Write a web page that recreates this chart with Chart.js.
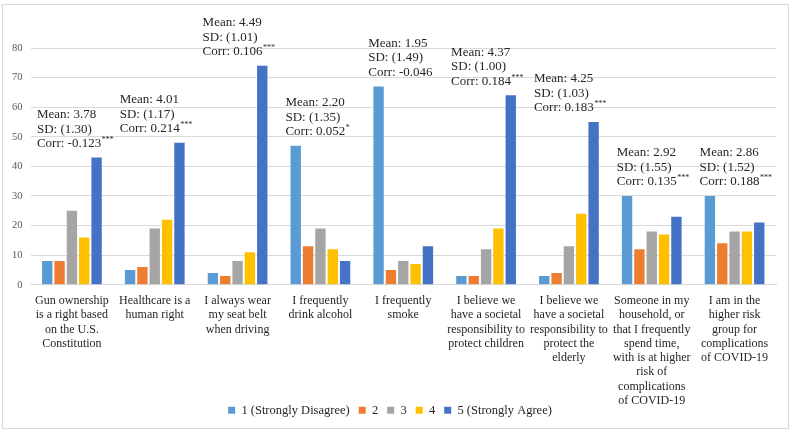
<!DOCTYPE html>
<html>
<head>
<meta charset="utf-8">
<script src="https://cdn.jsdelivr.net/npm/chart.js@4"></script>
<style>
html,body{margin:0;padding:0;background:#fff;}
#wrap{width:793px;height:431px;position:relative;}
</style>
</head>
<body>
<div id="wrap"><canvas id="c" width="793" height="431"></canvas></div>
<script>
const categories = [
  ["Gun ownership","is a right based","on the U.S.","Constitution"],
  ["Healthcare is a","human right"],
  ["I always wear","my seat belt","when driving"],
  ["I frequently","drink alcohol"],
  ["I frequently","smoke"],
  ["I believe we","have a societal","responsibility to","protect children"],
  ["I believe we","have a societal","responsibility to","protect the","elderly"],
  ["Someone in my","household, or","that I frequently","spend time,","with is at higher","risk of","complications","of COVID-19"],
  ["I am in the","higher risk","group for","complications","of COVID-19"]
];
const seriesNames = ["1 (Strongly Disagree)","2","3","4","5 (Strongly Agree)"];
const s1 = [8, 5, 4, 47, 67, 3, 3, 30, 30];
const s2 = [8, 6, 3, 13, 5, 3, 4, 12, 14];
const s3 = [25, 19, 8, 19, 8, 12, 13, 18, 18];
const s4 = [16, 22, 11, 12, 7, 19, 24, 17, 18];
const s5 = [43, 48, 74, 8, 13, 64, 55, 23, 21];
const means = ["3.78","4.01","4.49","2.20","1.95","4.37","4.25","2.92","2.86"];
const sds = ["1.30","1.17","1.01","1.35","1.49","1.00","1.03","1.55","1.52"];
const corrs = ["-0.123","0.214","0.106","0.052","-0.046","0.184","0.183","0.135","0.188"];
const sigs = ["***","***","***","*","","***","***","***","***"];
const yTicks = [0,10,20,30,40,50,60,70,80];

const colors = ["#5B9BD5","#ED7D31","#A5A5A5","#FFC000","#4472C4"];
const seriesData = [s1,s2,s3,s4,s5];
const FONT = "'Liberation Serif','Times New Roman',serif";

const framePlugin = {
  id: 'frame',
  beforeDraw(chart){
    const ctx = chart.ctx;
    ctx.save();
    ctx.fillStyle = '#fff';
    ctx.fillRect(0,0,chart.width,chart.height);
    ctx.strokeStyle = '#d9d9d9';
    ctx.lineWidth = 1;
    ctx.strokeRect(2.5,4.5,786,424);
    ctx.restore();
  }
};

// place the legend row just under the category labels
const legendPlace = {
  id: 'legendPlace',
  afterLayout(chart){
    const lg = chart.legend;
    if (!lg) return;
    lg.top = 395;
    lg.bottom = 426;
    lg.height = 31;
  }
};

const annoPlugin = {
  id: 'anno',
  afterDatasetsDraw(chart){
    const ctx = chart.ctx;
    const xs = chart.scales.x, ys = chart.scales.y;
    ctx.save();
    ctx.fillStyle = '#262626';
    ctx.textBaseline = 'alphabetic';
    ctx.textAlign = 'left';
    for (let i = 0; i < categories.length; i++) {
      const mx = Math.max(...seriesData.map(s => s[i]));
      const x = xs.getPixelForValue(i) - 35;
      const yb = ys.getPixelForValue(mx) - 10.5;
      ctx.font = "13px " + FONT;
      ctx.fillText("Mean: " + means[i], x, yb - 29);
      ctx.fillText("SD: (" + sds[i] + ")", x, yb - 14.5);
      const t = "Corr: " + corrs[i];
      ctx.fillText(t, x, yb);
      if (sigs[i]) {
        const w = ctx.measureText(t).width;
        ctx.font = "8px " + FONT;
        ctx.fillText(sigs[i], x + w + 0.5, yb - 5);
      }
    }
    ctx.restore();
  }
};

new Chart(document.getElementById('c'), {
  type: 'bar',
  data: {
    labels: categories,
    datasets: seriesNames.map((n, k) => ({
      label: n,
      data: seriesData[k],
      backgroundColor: colors[k],
      borderWidth: 0,
      barPercentage: 0.84,
      categoryPercentage: 0.745
    }))
  },
  options: {
    responsive: false,
    animation: false,
    devicePixelRatio: 1,
    layout: { padding: { top: 48, left: 4, right: 17, bottom: 10 } },
    plugins: {
      legend: {
        position: 'bottom',
        maxHeight: 4,
        labels: {
          boxWidth: 7, boxHeight: 7, padding: 9,
          color: '#262626',
          font: { family: FONT, size: 12.5 }
        }
      },
      tooltip: { enabled: false }
    },
    scales: {
      x: {
        grid: { display: false, drawTicks: false },
        border: { display: true, color: '#d9d9d9' },
        ticks: {
          autoSkip: false, maxRotation: 0, minRotation: 0,
          padding: 9,
          color: '#262626',
          font: { family: FONT, size: 12, lineHeight: 1.19 }
        }
      },
      y: {
        min: 0, max: 80,
        afterBuildTicks(axis){ axis.ticks = yTicks.map(v => ({value: v})); },
        grid: { color: '#d9d9d9', drawTicks: false },
        border: { display: false },
        ticks: {
          padding: 8,
          color: '#595959',
          font: { family: FONT, size: 10.5 }
        }
      }
    }
  },
  plugins: [framePlugin, legendPlace, annoPlugin]
});
</script>
</body>
</html>
